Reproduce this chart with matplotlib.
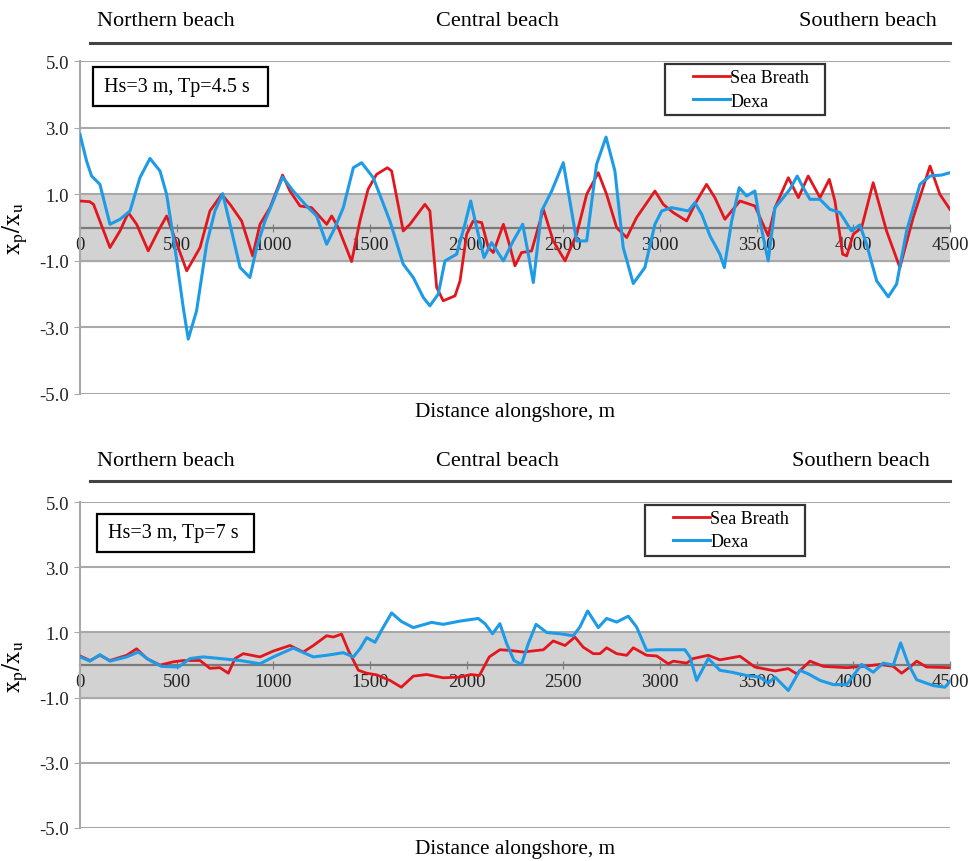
import matplotlib
matplotlib.use("Agg")
import matplotlib.pyplot as plt
from matplotlib.patches import Rectangle
from matplotlib.lines import Line2D
from matplotlib.legend_handler import HandlerLine2D

plt.rcParams['font.family'] = ['Liberation Serif', 'DejaVu Serif']
plt.rcParams['mathtext.fontset'] = 'stix'

# ---- data: Hs=3 m, Tp=4.5 s ----
top_sb_x = [0, 50, 70, 155, 207, 250, 293, 353, 405, 448,
            483, 552, 621, 672, 733, 776, 836, 893, 931, 983,
            1048, 1086, 1138, 1198, 1276, 1302, 1336, 1405, 1448, 1490,
            1534, 1590, 1612, 1672, 1707, 1784, 1810, 1845, 1879, 1940,
            1966, 2000, 2034, 2078, 2112, 2138, 2190, 2216, 2250, 2284,
            2336, 2397, 2448, 2509, 2569, 2621, 2681, 2724, 2776, 2828,
            2879, 2974, 3017, 3069, 3138, 3190, 3241, 3284, 3336, 3371,
            3414, 3491, 3560, 3595, 3664, 3716, 3767, 3828, 3876, 3905,
            3945, 3966, 4000, 4043, 4103, 4172, 4241, 4310, 4397, 4448,
            4500]
top_sb_y = [0.80, 0.78, 0.70, -0.60, -0.10, 0.45, 0.10, -0.70, -0.10, 0.35,
            -0.20, -1.30, -0.60, 0.50, 1.00, 0.70, 0.20, -0.85, 0.10, 0.60,
            1.58, 1.10, 0.65, 0.60, 0.10, 0.35, 0.00, -1.02, 0.20, 1.15,
            1.60, 1.80, 1.70, -0.10, 0.10, 0.70, 0.50, -1.80, -2.20, -2.05,
            -1.60, -0.20, 0.20, 0.15, -0.60, -0.75, 0.10, -0.40, -1.15, -0.75,
            -0.70, 0.55, -0.40, -1.00, -0.20, 1.00, 1.65, 1.00, 0.00, -0.30,
            0.30, 1.10, 0.70, 0.45, 0.20, 0.80, 1.30, 0.90, 0.25, 0.50,
            0.80, 0.65, -0.25, 0.60, 1.50, 0.90, 1.55, 0.90, 1.45, 0.80,
            -0.80, -0.85, -0.20, 0.00, 1.35, -0.10, -1.20, 0.30, 1.85, 1.00,
            0.55]

top_dx_x = [0, 34, 60, 103, 155, 207, 259, 310, 362, 414,
            448, 491, 534, 560, 603, 655, 698, 738, 776, 828,
            879, 914, 957, 1000, 1048, 1103, 1172, 1224, 1276, 1319,
            1362, 1414, 1457, 1517, 1603, 1672, 1724, 1776, 1810, 1853,
            1888, 1948, 1991, 2021, 2052, 2090, 2129, 2190, 2241, 2290,
            2319, 2345, 2388, 2440, 2500, 2534, 2569, 2621, 2672, 2721,
            2767, 2810, 2862, 2922, 2974, 3009, 3060, 3147, 3181, 3216,
            3259, 3310, 3333, 3371, 3410, 3448, 3491, 3517, 3560, 3595,
            3638, 3672, 3710, 3741, 3776, 3828, 3879, 3931, 3991, 4034,
            4069, 4121, 4181, 4224, 4276, 4345, 4397, 4457, 4500]
top_dx_y = [2.80, 2.00, 1.55, 1.30, 0.10, 0.25, 0.50, 1.50, 2.08, 1.70,
            1.00, -0.60, -2.40, -3.35, -2.50, -0.50, 0.50, 1.02, 0.10, -1.20,
            -1.50, -0.60, 0.20, 0.80, 1.52, 1.10, 0.65, 0.35, -0.50, 0.00,
            0.60, 1.80, 1.95, 1.50, 0.20, -1.10, -1.50, -2.10, -2.35, -2.00,
            -1.00, -0.80, 0.10, 0.80, 0.00, -0.90, -0.45, -1.00, -0.40, 0.10,
            -0.80, -1.65, 0.50, 1.10, 1.95, 0.80, -0.40, -0.40, 1.90, 2.72,
            1.70, -0.60, -1.68, -1.20, 0.10, 0.50, 0.60, 0.50, 0.75, 0.40,
            -0.25, -0.80, -1.20, 0.20, 1.20, 0.95, 1.10, 0.20, -1.00, 0.60,
            0.90, 1.15, 1.55, 1.20, 0.85, 0.85, 0.55, 0.45, -0.10, 0.08,
            -0.50, -1.60, -2.08, -1.70, -0.10, 1.30, 1.55, 1.58, 1.65]

# ---- data: Hs=3 m, Tp=7 s ----
bot_sb_x = [0, 52, 103, 155, 241, 293, 345, 414, 483, 534,
            621, 672, 724, 767, 802, 845, 931, 1000, 1086, 1155,
            1207, 1276, 1310, 1353, 1388, 1440, 1483, 1534, 1603, 1662,
            1724, 1793, 1879, 1966, 2022, 2066, 2117, 2172, 2224, 2293,
            2397, 2448, 2509, 2560, 2603, 2655, 2690, 2724, 2776, 2828,
            2862, 2931, 2983, 3043, 3069, 3138, 3172, 3250, 3310, 3414,
            3491, 3595, 3664, 3707, 3776, 3845, 3966, 4052, 4138, 4207,
            4250, 4293, 4328, 4379, 4500]
bot_sb_y = [0.28, 0.14, 0.30, 0.14, 0.30, 0.50, 0.20, 0.00, 0.10, 0.14,
            0.14, -0.10, -0.08, -0.25, 0.20, 0.35, 0.25, 0.43, 0.60, 0.40,
            0.60, 0.90, 0.86, 0.95, 0.45, -0.16, -0.25, -0.30, -0.47, -0.68,
            -0.34, -0.29, -0.39, -0.37, -0.29, -0.32, 0.25, 0.47, 0.45, 0.40,
            0.47, 0.74, 0.60, 0.86, 0.55, 0.35, 0.35, 0.53, 0.35, 0.30,
            0.53, 0.30, 0.28, 0.04, 0.12, 0.06, 0.20, 0.30, 0.16, 0.27,
            -0.06, -0.18, -0.11, -0.27, 0.12, -0.04, -0.08, -0.04, 0.02, -0.04,
            -0.25, -0.06, 0.12, -0.06, -0.08]

bot_dx_x = [0, 52, 103, 155, 241, 302, 362, 422, 509, 569,
            638, 724, 828, 931, 1000, 1103, 1207, 1276, 1362, 1414,
            1448, 1483, 1526, 1560, 1612, 1662, 1724, 1819, 1879, 1966,
            2060, 2095, 2134, 2172, 2207, 2245, 2284, 2319, 2359, 2414,
            2483, 2552, 2586, 2626, 2681, 2724, 2776, 2836, 2879, 2931,
            2983, 3129, 3155, 3190, 3250, 3310, 3371, 3448, 3517, 3560,
            3595, 3664, 3724, 3767, 3828, 3897, 3966, 4043, 4103, 4155,
            4207, 4245, 4284, 4328, 4414, 4474, 4500]
bot_dx_y = [0.25, 0.12, 0.32, 0.12, 0.25, 0.40, 0.14, -0.04, -0.06, 0.20,
            0.25, 0.20, 0.14, 0.04, 0.25, 0.52, 0.25, 0.30, 0.38, 0.25,
            0.50, 0.84, 0.70, 1.07, 1.60, 1.34, 1.15, 1.31, 1.25, 1.35,
            1.43, 1.27, 0.96, 1.27, 0.66, 0.14, 0.02, 0.66, 1.25, 1.00,
            0.96, 0.90, 1.17, 1.66, 1.15, 1.43, 1.32, 1.50, 1.17, 0.45,
            0.47, 0.47, 0.25, -0.47, 0.20, -0.16, -0.22, -0.32, -0.37, -0.55,
            -0.37, -0.78, -0.16, -0.27, -0.47, -0.60, -0.60, 0.02, -0.22, 0.06,
            0.00, 0.68, 0.04, -0.45, -0.63, -0.68, -0.50]

x_ticks = [0, 500, 1000, 1500, 2000, 2500, 3000, 3500, 4000, 4500]
y_ticks = [-5, -3, -1, 1, 3, 5]
beaches = ["Northern beach", "Central beach", "Southern beach"]
series_names = ["Sea Breath", "Dexa"]
cases = ["Hs=3 m, Tp=4.5 s", "Hs=3 m, Tp=7 s"]

RED = '#e3161d'
BLUE = '#1e9be6'
GRID = '#a9a9a9'


class IndentedLine(HandlerLine2D):
    # legend line drawn only over the right part of the handle box
    def create_artists(self, legend, orig_handle, xdescent, ydescent,
                       width, height, fontsize, trans):
        off = width * 0.38
        return super().create_artists(legend, orig_handle, xdescent - off,
                                      ydescent, width - off, height,
                                      fontsize, trans)


fig = plt.figure(figsize=(9.72, 8.62), dpi=100)
ax1 = fig.add_axes([0.0823, 0.5418, 0.895, 0.386])
ax2 = fig.add_axes([0.0823, 0.0383, 0.895, 0.378])

panels = [
    (ax1, top_sb_x, top_sb_y, top_dx_x, top_dx_y, cases[0],
     (0.015, 0.866, 0.201, 0.117), (0.672, 0.839, 0.184, 0.153)),
    (ax2, bot_sb_x, bot_sb_y, bot_dx_x, bot_dx_y, cases[1],
     (0.0195, 0.847, 0.18, 0.117), (0.649, 0.832, 0.184, 0.160)),
]

for ax, sx, sy, dx, dy, case, box, leg in panels:
    ax.set_xlim(0, 4500)
    ax.set_ylim(-5, 5)
    ax.axhspan(-1, 1, color='#d2d2d2', zorder=0)
    for v in y_ticks:
        ax.axhline(v, color=GRID, lw=1.5, zorder=1)
    ax.plot(sx, sy, color=RED, lw=2.0, zorder=3, solid_joinstyle='round',
            label=series_names[0])
    ax.plot(dx, dy, color=BLUE, lw=2.2, zorder=3, solid_joinstyle='round',
            label=series_names[1])

    ax.set_yticks(y_ticks)
    ax.set_yticklabels([f"{v:.1f}" for v in y_ticks])
    ax.set_xticks(x_ticks)
    ax.set_xticklabels([str(v) for v in x_ticks])
    ax.spines['bottom'].set_position(('data', 0))
    ax.spines['bottom'].set_color('#7a7a7a')
    ax.spines['bottom'].set_linewidth(1.6)
    ax.spines['bottom'].set_zorder(2)
    ax.spines['left'].set_color(GRID)
    ax.spines['left'].set_linewidth(1.5)
    ax.spines['top'].set_visible(False)
    ax.spines['right'].set_visible(False)
    ax.tick_params(axis='x', direction='inout', length=6, color='#7a7a7a',
                   labelsize=13.5, pad=3, labelcolor='#222222')
    ax.tick_params(axis='y', direction='out', length=4, color=GRID,
                   labelsize=13.5, pad=4, labelcolor='#222222')
    ax.set_ylabel(r'$\mathrm{x_p/x_u}$', fontsize=18)
    ax.yaxis.set_label_coords(-0.058, 0.5)

    ax.add_patch(Rectangle((box[0], box[1]), box[2], box[3],
                           transform=ax.transAxes, fc='white', ec='black',
                           lw=1.6, zorder=5))
    ax.text(box[0] + 0.013, box[1] + box[3] / 2, case, transform=ax.transAxes,
            fontsize=14.5, va='center', ha='left', zorder=6)

    lg = ax.legend(loc='upper left', bbox_to_anchor=leg, mode='expand',
                   fontsize=13, frameon=True, fancybox=False,
                   handlelength=3.3, handletextpad=0.05, borderpad=0.3,
                   labelspacing=0.35, borderaxespad=0,
                   handler_map={Line2D: IndentedLine()})
    lg.get_frame().set_edgecolor('black')
    lg.get_frame().set_linewidth(1.6)
    lg.set_zorder(6)

# x labels, centred on the plot area
fig.text(0.53, 0.521, "Distance alongshore, m", ha='center', va='center', fontsize=15.3)
fig.text(0.53, 0.014, "Distance alongshore, m", ha='center', va='center', fontsize=15.3)

# beach headers
for ytxt, yline, right in [(0.975, 0.949, 0.964), (0.465, 0.441, 0.957)]:
    fig.text(0.1, ytxt, beaches[0], ha='left', va='center', fontsize=16)
    fig.text(0.512, ytxt, beaches[1], ha='center', va='center', fontsize=16)
    fig.text(right, ytxt, beaches[2], ha='right', va='center', fontsize=16)
    fig.add_artist(Line2D([0.0926, 0.977], [yline, yline], color='#444444',
                          lw=2.2, transform=fig.transFigure))

fig.savefig("out.png", dpi=100)
